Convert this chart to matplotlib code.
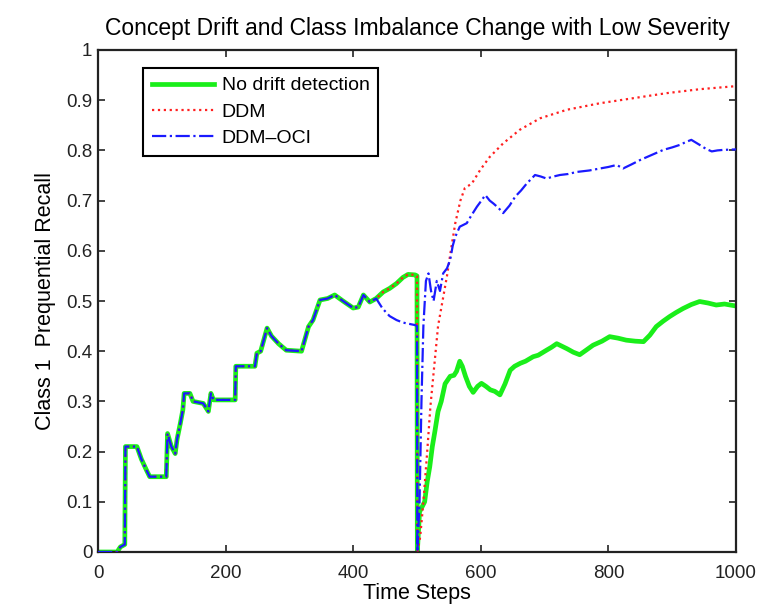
import matplotlib
matplotlib.use("Agg")
import matplotlib.pyplot as plt
import numpy as np

plt.rcParams['font.family'] = ['Liberation Sans', 'DejaVu Sans']

# Shared prequential recall before the drift (all methods coincide)
shared_steps = [0, 30, 35, 42, 43, 61, 68, 76, 81, 107, 109, 115, 121, 124, 129, 133,
                135, 144, 149, 165, 173, 177, 181, 215, 216, 246, 249, 255, 265, 272,
                283, 295, 319, 330, 337, 348, 360, 371, 384, 400, 408, 416, 426, 436]
shared_recall = [0.0, 0.0, 0.01, 0.015, 0.21, 0.21, 0.185, 0.163, 0.15, 0.15, 0.236, 0.21,
                 0.196, 0.225, 0.256, 0.283, 0.316, 0.316, 0.30, 0.296, 0.28, 0.316, 0.303,
                 0.303, 0.37, 0.37, 0.396, 0.40, 0.446, 0.43, 0.415, 0.402, 0.40, 0.449,
                 0.462, 0.502, 0.505, 0.512, 0.50, 0.486, 0.488, 0.512, 0.498, 0.505]

# No drift detection / DDM share this stretch up to the drift point
late_steps = [447, 457, 468, 478, 486, 497, 500, 500.5]
late_recall = [0.518, 0.525, 0.535, 0.547, 0.553, 0.552, 0.55, 0.0]

nodrift_steps = [504, 512, 516, 520, 524, 528, 533, 538, 544, 552, 558, 562, 567, 571, 576,
                 582, 588, 595, 601, 608, 615, 622, 630, 638, 646, 653, 662, 670, 682, 690,
                 703, 711, 719, 727, 735, 745, 755, 765, 776, 790, 802, 815, 828, 842, 855,
                 865, 875, 886, 896, 906, 917, 930, 943, 956, 969, 982, 1000]
nodrift_recall = [0.08, 0.10, 0.14, 0.17, 0.21, 0.24, 0.28, 0.30, 0.335, 0.35, 0.352, 0.36,
                  0.38, 0.37, 0.35, 0.33, 0.318, 0.33, 0.336, 0.33, 0.323, 0.32, 0.313,
                  0.335, 0.362, 0.37, 0.376, 0.38, 0.389, 0.392, 0.402, 0.408, 0.415, 0.41,
                  0.405, 0.398, 0.393, 0.402, 0.412, 0.42, 0.429, 0.426, 0.422, 0.42, 0.419,
                  0.432, 0.449, 0.46, 0.469, 0.477, 0.485, 0.493, 0.499, 0.496, 0.492,
                  0.494, 0.49]

ddm_steps = [505, 510, 516, 521, 527, 533, 540, 547, 553, 560, 568, 575, 586, 599, 614, 635,
             661, 693, 735, 787, 839, 891, 944, 1000]
ddm_recall = [0.03, 0.10, 0.20, 0.29, 0.37, 0.45, 0.50, 0.55, 0.60, 0.655, 0.70, 0.725,
              0.734, 0.761, 0.787, 0.814, 0.841, 0.864, 0.881, 0.894, 0.904, 0.914, 0.922,
              0.928]

oci_steps = [446, 457, 468, 478, 497, 500, 500.5, 504, 507, 510, 514, 518, 522, 526, 531,
             536, 541, 547, 552, 556, 560, 567, 578, 585, 594, 601, 607, 614, 620, 628, 635,
             645, 654, 663, 672, 685, 694, 703, 714, 724, 737, 750, 770, 787, 800, 813, 823,
             836, 850, 868, 886, 900, 912, 922, 930, 943, 953, 962, 971, 980, 1000]
oci_recall = [0.485, 0.47, 0.462, 0.457, 0.452, 0.45, 0.0, 0.10, 0.30, 0.45, 0.54, 0.555,
              0.52, 0.50, 0.54, 0.52, 0.555, 0.565, 0.582, 0.61, 0.628, 0.648, 0.655, 0.67,
              0.688, 0.70, 0.711, 0.70, 0.694, 0.685, 0.675, 0.69, 0.708, 0.72, 0.734, 0.751,
              0.748, 0.744, 0.748, 0.751, 0.753, 0.757, 0.76, 0.764, 0.767, 0.771, 0.764,
              0.772, 0.781, 0.791, 0.801, 0.806, 0.811, 0.817, 0.821, 0.811, 0.803, 0.798,
              0.80, 0.801, 0.802]

nd_x = shared_steps + late_steps + nodrift_steps
nd_y = shared_recall + late_recall + nodrift_recall
ddm_x = shared_steps + late_steps + ddm_steps
ddm_y = shared_recall + late_recall + ddm_recall
oci_x = shared_steps + oci_steps
oci_y = shared_recall + oci_recall

fig = plt.figure(figsize=(7.8, 6.05), dpi=100)
ax = fig.add_axes([98 / 780, 53 / 605, 638 / 780, 502 / 605])

ax.plot(nd_x, nd_y, color='#1aee1a', lw=3.4, solid_joinstyle='round',
        label='No drift detection', zorder=2)
ax.plot(ddm_x, ddm_y, color='#ff2020', lw=1.6, ls=':', label='DDM', zorder=3)
ax.plot(oci_x, oci_y, color='#1a1aff', lw=1.6, ls='-.', label='DDM\u2013OCI', zorder=4)

ax.set_xlim(0, 1000)
ax.set_ylim(0, 1)
ax.set_xticks(np.arange(0, 1001, 200))
ax.set_yticks(np.round(np.arange(0, 1.01, 0.1), 1))
ax.set_yticklabels(['0', '0.1', '0.2', '0.3', '0.4', '0.5', '0.6', '0.7', '0.8', '0.9', '1'])
ax.tick_params(direction='in', top=True, right=True, length=5, width=1.2,
               labelsize=13.5, colors='#222222')
ax.tick_params(axis='x', pad=9)
ax.tick_params(axis='y', pad=4)
for sp in ax.spines.values():
    sp.set_linewidth(1.6)
    sp.set_color('#222222')

ax.set_xlabel('Time Steps', fontsize=15.5, labelpad=1)
ax.set_ylabel('Class 1  Prequential Recall', fontsize=15.5, labelpad=7)
ax.set_title('Concept Drift and Class Imbalance Change with Low Severity',
             fontsize=16.5, pad=11)

leg = ax.legend(loc='upper left', bbox_to_anchor=(0.0705, 0.964), borderaxespad=0,
                fontsize=14, handlelength=3.2, handletextpad=0.4, labelspacing=0.45,
                borderpad=0.45, fancybox=False, framealpha=1, edgecolor='black')
leg.get_frame().set_linewidth(1.5)

fig.savefig('out.png', dpi=100)
